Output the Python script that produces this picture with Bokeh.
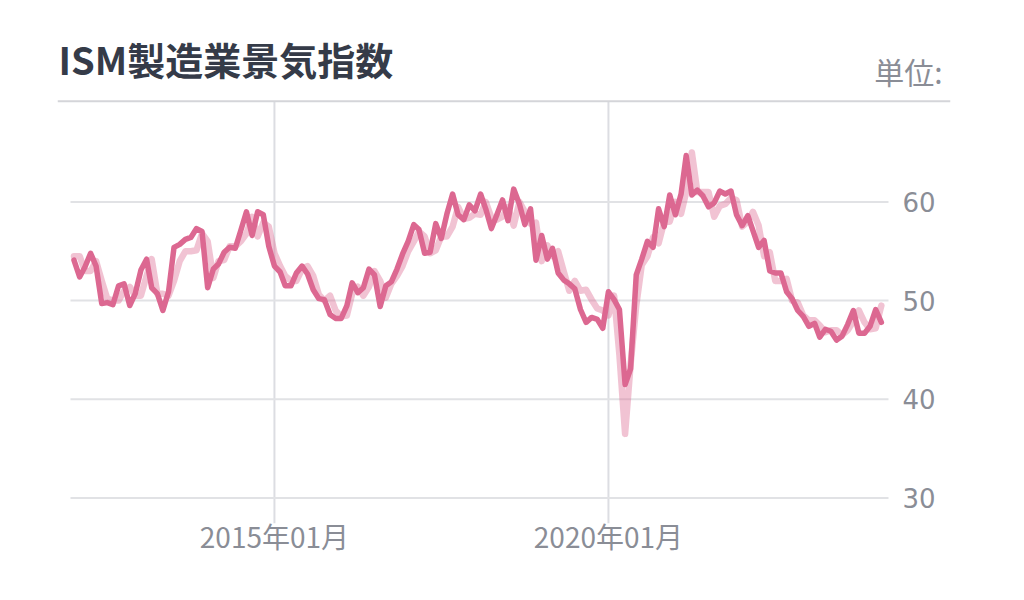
import pandas as pd
from bokeh.plotting import figure
from bokeh.models import FixedTicker, Span, Label, ColumnDataSource, Range1d
from bokeh.embed import file_html
from bokeh.resources import INLINE

# ---------------- data ----------------
start_month = "2012-01-01"

actual = [
    54.1, 52.4, 53.4, 54.8, 53.5, 49.7, 49.8, 49.6, 51.5, 51.7, 49.5, 50.7,  # 2012
    53.1, 54.2, 51.3, 50.7, 49.0, 50.9, 55.4, 55.7, 56.2, 56.4, 57.3, 57.0,  # 2013
    51.3, 53.2, 53.7, 54.9, 55.4, 55.3, 57.1, 59.0, 56.6, 59.0, 58.7, 55.5,  # 2014
    53.5, 52.9, 51.5, 51.5, 52.8, 53.5, 52.7, 51.1, 50.2, 50.1, 48.6, 48.2,  # 2015
    48.2, 49.5, 51.8, 50.8, 51.3, 53.2, 52.6, 49.4, 51.5, 51.9, 53.2, 54.7,  # 2016
    56.0, 57.7, 57.2, 54.8, 54.9, 57.8, 56.3, 58.8, 60.8, 58.7, 58.2, 59.7,  # 2017
    59.1, 60.8, 59.3, 57.3, 58.7, 60.2, 58.1, 61.3, 59.8, 57.7, 59.3, 54.1,  # 2018
    56.6, 54.2, 55.3, 52.8, 52.1, 51.7, 51.2, 49.1, 47.8, 48.3, 48.1, 47.2,  # 2019
    50.9, 50.1, 49.1, 41.5, 43.1, 52.6, 54.2, 56.0, 55.4, 59.3, 57.5, 60.7,  # 2020
    58.7, 60.8, 64.7, 60.7, 61.2, 60.6, 59.5, 59.9, 61.1, 60.8, 61.1, 58.7,  # 2021
    57.6, 58.6, 57.1, 55.4, 56.1, 53.0, 52.8, 52.8, 50.9, 50.2, 49.0, 48.4,  # 2022
    47.4, 47.7, 46.3, 47.1, 46.9, 46.0, 46.4, 47.6, 49.0, 46.7, 46.7, 47.4,  # 2023
    49.1, 47.8,                                                              # 2024
]

forecast = [
    54.5, 54.5, 53.0, 53.0, 54.0, 52.0, 50.2, 50.0, 50.0, 51.0, 51.4, 50.5,  # 2012
    50.5, 52.5, 54.2, 50.7, 50.7, 50.5, 52.0, 54.0, 55.0, 55.0, 55.1, 56.8,  # 2013
    56.0, 52.3, 54.0, 54.1, 55.5, 55.5, 56.0, 56.8, 58.5, 56.5, 57.9, 57.5,  # 2014
    54.8, 53.5, 52.5, 52.0, 52.0, 53.2, 53.5, 52.5, 50.6, 50.0, 50.5, 49.0,  # 2015
    48.4, 48.5, 50.7, 51.4, 50.5, 51.4, 53.0, 52.0, 50.3, 51.7, 52.5, 53.5,  # 2016
    55.0, 56.0, 57.0, 56.5, 54.8, 55.1, 56.5, 56.5, 57.5, 59.5, 58.3, 58.4,  # 2017
    58.8, 58.7, 60.0, 58.4, 58.2, 58.5, 59.5, 57.6, 60.0, 59.0, 57.8, 57.9,  # 2018
    54.0, 55.6, 54.5, 55.0, 53.0, 51.0, 52.0, 51.0, 51.1, 50.1, 49.2, 49.0,  # 2019
    48.5, 50.5, 44.5, 36.5, 43.5, 49.5, 53.6, 54.5, 56.4, 55.8, 58.0, 58.0,  # 2020
    60.0, 58.8, 61.0, 65.0, 61.0, 61.0, 61.0, 58.5, 59.6, 59.8, 60.4, 60.2,  # 2021
    57.5, 58.0, 59.0, 57.6, 54.5, 54.9, 52.0, 52.0, 52.2, 50.0, 49.8, 48.5,  # 2022
    48.0, 48.0, 47.5, 46.8, 47.0, 47.0, 46.5, 47.0, 47.9, 49.0, 47.8, 47.1,  # 2023
    47.2, 49.5,                                                              # 2024
]

x_tick_dates = ["2015-01-01", "2020-01-01"]
x_tick_labels = ["2015年01月", "2020年01月"]
y_ticks = [30, 40, 50, 60]

title_text = "ISM製造業景気指数"
unit_text = "単位:"

# ---------------- build ----------------
dates = pd.date_range(start_month, periods=len(actual), freq="MS")
src = ColumnDataSource(dict(date=dates, actual=actual, forecast=forecast))


def ms(s):
    return pd.Timestamp(s).timestamp() * 1000.0


x_ticks_ms = [ms(d) for d in x_tick_dates]

FONT = "Noto Sans CJK JP"
GRAY = "#8a8d96"
LINE = "#dc6891"

Y_LO, Y_TOP_RULE, Y_HI = 27.42, 70.2, 78.38

p = figure(
    width=1000, height=580,
    x_axis_type="datetime", y_axis_location="right",
    x_range=Range1d(ms("2011-10-03"), ms("2025-02-13")),
    y_range=Range1d(Y_LO, Y_HI),
    min_border_left=57, min_border_right=50, min_border_top=20, min_border_bottom=57,
    output_backend="svg", toolbar_location=None,
)
p.outline_line_color = None
p.background_fill_color = "white"
p.border_fill_color = "white"
p.xgrid.visible = False
p.ygrid.visible = False

# vertical grid lines at the x ticks (from the bottom up to the top rule)
p.segment(x0=x_ticks_ms, x1=x_ticks_ms, y0=[Y_LO] * len(x_ticks_ms),
          y1=[Y_TOP_RULE] * len(x_ticks_ms), line_color="#dcdde2", line_width=2)

# horizontal value lines
seg_x0 = ms("2011-12-13")
seg_x1 = ms("2024-03-11")
p.segment(x0=[seg_x0] * len(y_ticks), x1=[seg_x1] * len(y_ticks),
          y0=y_ticks, y1=y_ticks, line_color="#e1e2e5", line_width=2)

# top rule
p.add_layout(Span(location=Y_TOP_RULE, dimension="width", line_color="#d4d5d9", line_width=2))

# series
p.line("date", "forecast", source=src, line_color=LINE, line_alpha=0.4,
       line_width=6.5, line_join="round", line_cap="round")
p.line("date", "actual", source=src, line_color=LINE, line_width=5.5,
       line_join="round", line_cap="round")

# x axis
xa = p.xaxis[0]
xa.ticker = FixedTicker(ticks=x_ticks_ms)
xa.major_label_overrides = {t: lab for t, lab in zip(x_ticks_ms, x_tick_labels)}
xa.axis_line_color = None
xa.major_tick_line_color = None
xa.minor_tick_line_color = None
xa.major_label_standoff = -14
xa.major_label_text_font = FONT
xa.major_label_text_font_size = "28px"
xa.major_label_text_color = GRAY

# y axis (labels sit just right of the value lines)
ya = p.yaxis[0]
ya.ticker = FixedTicker(ticks=y_ticks)
ya.fixed_location = seg_x1
ya.axis_line_color = None
ya.major_tick_line_color = None
ya.minor_tick_line_color = None
ya.major_label_standoff = 8
ya.major_label_text_font = "DejaVu Sans"
ya.major_label_text_font_size = "26px"
ya.major_label_text_color = GRAY

# title and unit
p.add_layout(Label(x=1, y=493, x_units="screen", y_units="screen", text=title_text,
                   text_font=FONT, text_font_size="38px", text_font_style="bold",
                   text_color="#353b48", text_baseline="top", text_align="left"))
p.add_layout(Label(x=885, y=475, x_units="screen", y_units="screen", text=unit_text,
                   text_font=FONT, text_font_size="30px",
                   text_color=GRAY, text_baseline="top", text_align="right"))

open("out.html", "w").write(file_html(p, INLINE))
